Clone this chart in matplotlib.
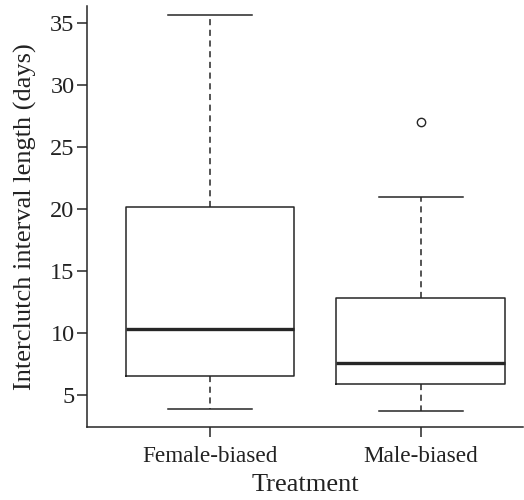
import matplotlib.pyplot as plt

plt.rcParams['font.family'] = ['Liberation Serif', 'DejaVu Serif']

# Box statistics
groups = ["Female-biased", "Male-biased"]
whisker_low = [3.9, 3.7]
quart_low = [6.55, 5.9]
medians = [10.3, 7.55]
quart_high = [20.2, 12.85]
whisker_high = [35.7, 21.0]
outliers = [[], [27.0]]

stats = []
for i, g in enumerate(groups):
    stats.append({
        "label": g,
        "whislo": whisker_low[i],
        "q1": quart_low[i],
        "med": medians[i],
        "q3": quart_high[i],
        "whishi": whisker_high[i],
        "fliers": outliers[i],
    })

ink = "#262626"
fig = plt.figure(figsize=(5.24, 5.0), dpi=100)
ax = fig.add_axes([87 / 524, 73 / 500, 436 / 524, 421 / 500])

ax.bxp(stats, positions=[1, 2], widths=0.8, showfliers=True,
       boxprops=dict(color=ink, linewidth=1.1),
       medianprops=dict(color=ink, linewidth=2.4),
       whiskerprops=dict(color=ink, linewidth=1.1, linestyle=(0, (4, 3))),
       capprops=dict(color=ink, linewidth=1.1),
       capwidths=0.4,
       flierprops=dict(marker="o", markersize=6, markerfacecolor="white",
                       markeredgecolor=ink, markeredgewidth=1.0))

ax.set_xlim(0.417, 2.485)
ax.set_ylim(2.42, 36.4)
ax.set_yticks([5, 10, 15, 20, 25, 30, 35])
ax.set_xticks([1, 2])
ax.set_xticklabels(groups)

for side in ["top", "right"]:
    ax.spines[side].set_visible(False)
for side in ["left", "bottom"]:
    ax.spines[side].set_color(ink)
    ax.spines[side].set_linewidth(1.1)

ax.tick_params(axis="both", colors=ink, labelcolor="#222222", labelsize=17.5,
               length=7, width=1.1, direction="out")
ax.tick_params(axis="x", labelsize=16.7, pad=7)
ax.tick_params(axis="y", pad=2)

ax.set_xlabel("Treatment", fontsize=19, color="#222222", labelpad=5)
ax.set_ylabel("Interclutch interval length (days)", fontsize=19, color="#222222", labelpad=9)

fig.savefig("out.png", dpi=100)
